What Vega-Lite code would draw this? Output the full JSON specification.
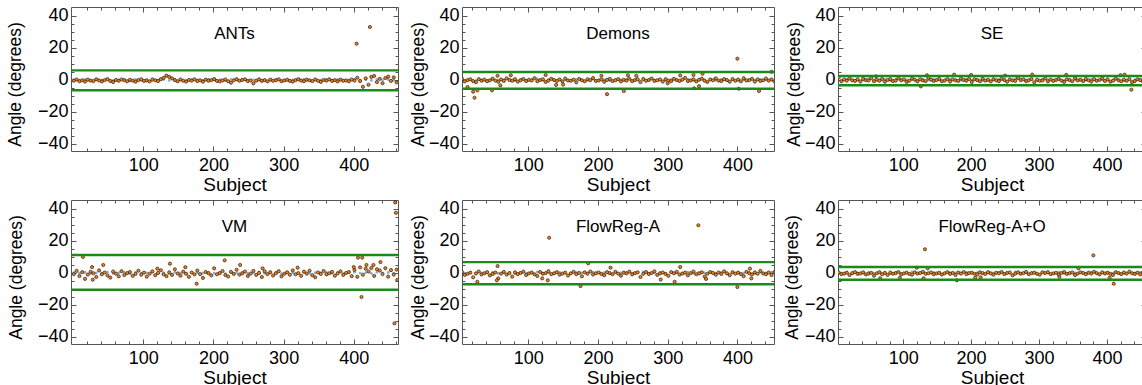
{
"$schema":"https://vega.github.io/schema/vega-lite/v6.json",
"padding":{"left":6,"top":6,"right":0,"bottom":0},
"config":{"view":{"stroke":null},
"axis":{"domainColor":"#555","tickColor":"#555","domainWidth":1,"tickWidth":1,"grid":false,"labelFont":"Liberation Sans","labelFontSize":18,"labelColor":"#000","titleFont":"Liberation Sans","titleFontSize":19,"titleFontWeight":"normal","titleColor":"#000","labelFlush":false,"labelOverlap":false},
"axisLeft":{"titleFontSize":17.5},
"title":{"font":"Liberation Sans","fontSize":17,"fontWeight":"normal","color":"#000","anchor":"middle","frame":"group","offset":-36.7,"baseline":"alphabetic"}},
"datasets":{
"thr":[{"m":"ANTs","v":5.9},{"m":"ANTs","v":-6.5},{"m":"Demons","v":4.9},{"m":"Demons","v":-5.6},{"m":"SE","v":2.4},{"m":"SE","v":-3.4},{"m":"VM","v":11.1},{"m":"VM","v":-10.6},{"m":"FlowReg-A","v":6.7},{"m":"FlowReg-A","v":-7.2},{"m":"FlowReg-A+O","v":3.6},{"m":"FlowReg-A+O","v":-4.3}],
"d1":[{"s":1,"a":-0.6,"b":0.1},{"s":5,"a":0.2},{"s":9,"a":-0.9,"b":-0.3},{"s":13,"a":-0.3},{"s":17,"a":-1.1,"b":0.2},{"s":21,"a":0.1},{"s":25,"a":-0.5,"b":-0.5},{"s":29,"a":-0.8},{"s":33,"a":0.3,"b":0.0},{"s":37,"a":-0.4},
{"s":41,"a":-1.0,"b":-0.2},{"s":45,"a":-0.2},{"s":49,"a":0.4,"b":0.4},{"s":53,"a":-0.7},{"s":57,"a":-1.4,"b":-0.4},{"s":61,"a":-0.1},{"s":65,"a":-0.6,"b":-0.1},{"s":69,"a":0.2},{"s":73,"a":-0.3,"b":0.3},{"s":77,"a":-0.9},
{"s":81,"a":0.0,"b":-0.6},{"s":85,"a":-0.5},{"s":89,"a":-1.2,"b":0.2},{"s":93,"a":-0.2},{"s":97,"a":0.3,"b":-0.2},{"s":101,"a":-0.7},{"s":105,"a":-0.4,"b":0.0},{"s":109,"a":-1.0},{"s":113,"a":0.1,"b":0.5},{"s":117,"a":-0.3},
{"s":121,"a":-0.8,"b":-0.3},{"s":125,"a":0.4},{"s":129,"a":1.2,"b":0.1},{"s":133,"a":2.6},{"s":137,"a":1.8,"b":-0.4},{"s":141,"a":0.9},{"s":145,"a":-0.2,"b":0.3},{"s":149,"a":-0.9},{"s":153,"a":0.2,"b":-0.1},{"s":157,"a":-0.6},
{"s":161,"a":-1.1,"b":-0.5},{"s":165,"a":-0.1},{"s":169,"a":-0.5,"b":0.2},{"s":173,"a":0.3},{"s":177,"a":-0.8,"b":0.0},{"s":181,"a":-0.3},{"s":185,"a":-1.2,"b":-0.3},{"s":189,"a":0.1},{"s":193,"a":-0.6,"b":0.4},{"s":197,"a":-0.2},
{"s":201,"a":0.5,"b":-0.2},{"s":205,"a":-0.7},{"s":209,"a":-1.0,"b":0.1},{"s":213,"a":-0.4},{"s":217,"a":0.2,"b":-0.6},{"s":221,"a":-0.9},{"s":225,"a":-1.8,"b":0.3},{"s":229,"a":-0.3},{"s":233,"a":0.4,"b":-0.1},{"s":237,"a":-0.6},
{"s":241,"a":-0.1,"b":0.2},{"s":245,"a":0.3},{"s":249,"a":-0.8,"b":-0.4},{"s":253,"a":-0.4},{"s":257,"a":-2.2,"b":0.0},{"s":261,"a":-0.5},{"s":265,"a":0.2,"b":0.5},{"s":269,"a":-0.7},{"s":273,"a":-0.2,"b":-0.3},{"s":277,"a":-1.0},
{"s":281,"a":0.1,"b":-0.1},{"s":285,"a":-0.6},{"s":289,"a":-0.3,"b":0.2},{"s":293,"a":0.3},{"s":297,"a":-0.9,"b":-0.5},{"s":301,"a":-0.4},{"s":305,"a":0.0,"b":0.3},{"s":309,"a":-0.7},{"s":313,"a":-1.1,"b":0.0},{"s":317,"a":-0.2},
{"s":321,"a":0.4,"b":-0.2},{"s":325,"a":-0.5},{"s":329,"a":-0.9,"b":0.4},{"s":333,"a":0.1},{"s":337,"a":-0.3,"b":-0.4},{"s":341,"a":-0.8},{"s":345,"a":0.2,"b":0.1},{"s":349,"a":-0.6},{"s":353,"a":-1.3,"b":-0.1},{"s":357,"a":-0.1},
{"s":361,"a":-0.5,"b":0.3},{"s":365,"a":0.3},{"s":369,"a":-0.7,"b":-0.3},{"s":373,"a":-0.2},{"s":377,"a":-1.0,"b":0.2},{"s":381,"a":0.1},{"s":385,"a":-0.6,"b":-0.6},{"s":389,"a":-0.4},{"s":393,"a":-0.9,"b":0.0},{"s":397,"a":0.2},
{"s":401,"a":-0.5,"b":0.4},{"s":405,"a":1.3},{"s":409,"a":-0.8,"b":-0.2},{"s":413,"a":-4.4},{"s":417,"a":0.9,"b":0.1},{"s":421,"a":-3.1},{"s":425,"a":1.8,"b":-0.4},{"s":429,"a":2.4},{"s":433,"a":-1.4,"b":0.3},{"s":437,"a":0.6},
{"s":441,"a":-2.1,"b":-0.1},{"s":445,"a":1.1},{"s":449,"a":2.0,"b":0.2},{"s":453,"a":-0.7},{"s":457,"a":1.5,"b":-0.3},{"s":461,"a":-1.6},
{"s":404,"a":22.6},{"s":423,"a":33.0}],
"d2":[{"s":1,"a":-0.4,"b":0.1},{"s":5,"a":0.6},{"s":9,"a":-1.0,"b":-0.3},{"s":13,"a":-0.2},{"s":17,"a":0.3,"b":0.2},{"s":21,"a":-0.8},{"s":25,"a":-1.5,"b":-0.5},{"s":29,"a":0.4},{"s":33,"a":-0.6,"b":0.0},{"s":37,"a":0.1},
{"s":41,"a":-0.9,"b":-0.2},{"s":45,"a":-0.3},{"s":49,"a":0.7,"b":0.4},{"s":53,"a":-0.5},{"s":57,"a":-1.2,"b":-0.4},{"s":61,"a":0.2},{"s":65,"a":-0.7,"b":-0.1},{"s":69,"a":0.9},{"s":73,"a":-0.1,"b":0.3},{"s":77,"a":-0.6},
{"s":81,"a":0.4,"b":-0.6},{"s":85,"a":-1.1},{"s":89,"a":-0.3,"b":0.2},{"s":93,"a":0.5},{"s":97,"a":-0.8,"b":-0.2},{"s":101,"a":0.0},{"s":105,"a":-0.4,"b":0.0},{"s":109,"a":1.0},{"s":113,"a":-0.9,"b":0.5},{"s":117,"a":-0.2},
{"s":121,"a":0.3,"b":-0.3},{"s":125,"a":-1.3},{"s":129,"a":-0.5,"b":0.1},{"s":133,"a":0.6},{"s":137,"a":-0.1,"b":-0.4},{"s":141,"a":-0.7},{"s":145,"a":0.2,"b":0.3},{"s":149,"a":-1.0},{"s":153,"a":0.8,"b":-0.1},{"s":157,"a":-0.4},
{"s":161,"a":-0.6,"b":-0.5},{"s":165,"a":0.1},{"s":169,"a":-1.6,"b":0.2},{"s":173,"a":0.5},{"s":177,"a":-0.3,"b":0.0},{"s":181,"a":-0.9},{"s":185,"a":0.3,"b":-0.3},{"s":189,"a":-0.2},{"s":193,"a":1.1,"b":0.4},{"s":197,"a":-0.7},
{"s":201,"a":-0.4,"b":-0.2},{"s":205,"a":0.2},{"s":209,"a":-1.2,"b":0.1},{"s":213,"a":-0.1},{"s":217,"a":0.6,"b":-0.6},{"s":221,"a":-0.8},{"s":225,"a":-0.3,"b":0.3},{"s":229,"a":0.4},{"s":233,"a":-1.0,"b":-0.1},{"s":237,"a":0.0},
{"s":241,"a":-0.5,"b":0.2},{"s":245,"a":0.7},{"s":249,"a":-0.9,"b":-0.4},{"s":253,"a":-0.2},{"s":257,"a":0.3,"b":0.0},{"s":261,"a":-1.4},{"s":265,"a":0.5,"b":0.5},{"s":269,"a":-0.6},{"s":273,"a":-0.1,"b":-0.3},{"s":277,"a":0.8},
{"s":281,"a":-0.7,"b":-0.1},{"s":285,"a":-0.3},{"s":289,"a":0.2,"b":0.2},{"s":293,"a":-1.1},{"s":297,"a":0.4,"b":-0.5},{"s":301,"a":-0.5},{"s":305,"a":-0.9,"b":0.3},{"s":309,"a":0.6},{"s":313,"a":-0.2,"b":0.0},{"s":317,"a":-0.7},
{"s":321,"a":0.1,"b":-0.2},{"s":325,"a":1.2},{"s":329,"a":-0.8,"b":0.4},{"s":333,"a":-0.4},{"s":337,"a":0.3,"b":-0.4},{"s":341,"a":-1.0},{"s":345,"a":0.0,"b":0.1},{"s":349,"a":0.7},{"s":353,"a":-0.6,"b":-0.1},{"s":357,"a":-1.3},
{"s":361,"a":0.2,"b":0.3},{"s":365,"a":-0.3},{"s":369,"a":0.9,"b":-0.3},{"s":373,"a":-0.5},{"s":377,"a":-0.8,"b":0.2},{"s":381,"a":0.4},{"s":385,"a":-0.1,"b":-0.6},{"s":389,"a":-1.2},{"s":393,"a":0.5,"b":0.0},{"s":397,"a":-0.6},
{"s":401,"a":0.1,"b":0.4},{"s":405,"a":-0.9},{"s":409,"a":1.0,"b":-0.2},{"s":413,"a":-0.4},{"s":417,"a":-0.2,"b":0.1},{"s":421,"a":0.6},{"s":425,"a":-1.1,"b":-0.4},{"s":429,"a":0.3},{"s":433,"a":-0.7,"b":0.3},{"s":437,"a":-0.3},
{"s":441,"a":0.8,"b":-0.1},{"s":445,"a":-0.5},{"s":449,"a":0.2,"b":0.2},{"s":453,"a":-1.0},{"s":457,"a":1.4,"b":-0.3},{"s":461,"a":-0.6},
{"s":13,"a":-4.5},{"s":21,"a":-7.4},{"s":23,"a":-11.2},{"s":27,"a":-6.6},{"s":48,"a":-6.6},{"s":56,"a":2.5},{"s":60,"a":-3.5},{"s":75,"a":2.8},{"s":125,"a":3.0},{"s":140,"a":-3.2},{"s":150,"a":-3.0},{"s":205,"a":2.5},{"s":213,"a":-9.0},{"s":237,"a":-7.0},{"s":243,"a":2.8},{"s":255,"a":2.5},{"s":300,"a":-2.2},{"s":318,"a":2.7},{"s":337,"a":3.0},{"s":338,"a":-5.3},{"s":345,"a":-4.0},{"s":350,"a":3.8},{"s":400,"a":13.2},{"s":402,"a":-5.6},{"s":431,"a":-7.0},{"s":449,"a":5.0}],
"d3":[{"s":1,"a":-0.6,"b":0.1},{"s":5,"a":1.4},{"s":9,"a":-1.0,"b":-0.3},{"s":13,"a":0.2},{"s":17,"a":-0.5,"b":0.2},{"s":21,"a":0.8},{"s":25,"a":-0.3,"b":-0.5},{"s":29,"a":-0.7},{"s":33,"a":0.3,"b":0.0},{"s":37,"a":-1.1},
{"s":41,"a":0.6,"b":-0.2},{"s":45,"a":-0.2},{"s":49,"a":-0.4,"b":0.4},{"s":53,"a":1.0},{"s":57,"a":-0.9,"b":-0.4},{"s":61,"a":0.1},{"s":65,"a":-0.6,"b":-0.1},{"s":69,"a":0.5},{"s":73,"a":-1.2,"b":0.3},{"s":77,"a":-0.1},
{"s":81,"a":0.4,"b":-0.6},{"s":85,"a":-0.8},{"s":89,"a":-0.5,"b":0.2},{"s":93,"a":0.9},{"s":97,"a":-0.3,"b":-0.2},{"s":101,"a":0.2},{"s":105,"a":-1.3,"b":0.0},{"s":109,"a":-0.6},{"s":113,"a":0.7,"b":0.5},{"s":117,"a":0.0},
{"s":121,"a":-1.0,"b":-0.3},{"s":125,"a":0.3},{"s":129,"a":-0.4,"b":0.1},{"s":133,"a":-0.8},{"s":137,"a":1.2,"b":-0.4},{"s":141,"a":0.1},{"s":145,"a":-0.7,"b":0.3},{"s":149,"a":-0.2},{"s":153,"a":0.6,"b":-0.1},{"s":157,"a":-0.9},
{"s":161,"a":-0.5,"b":-0.5},{"s":165,"a":0.4},{"s":169,"a":-1.1,"b":0.2},{"s":173,"a":0.2},{"s":177,"a":-0.3,"b":0.0},{"s":181,"a":-0.7},{"s":185,"a":0.8,"b":-0.3},{"s":189,"a":-0.1},{"s":193,"a":-0.6,"b":0.4},{"s":197,"a":0.5},
{"s":201,"a":-1.4,"b":-0.2},{"s":205,"a":0.3},{"s":209,"a":-0.2,"b":0.1},{"s":213,"a":-0.9},{"s":217,"a":0.7,"b":-0.6},{"s":221,"a":-0.5},{"s":225,"a":0.0,"b":0.3},{"s":229,"a":-1.0},{"s":233,"a":0.4,"b":-0.1},{"s":237,"a":-0.3},
{"s":241,"a":-0.8,"b":0.2},{"s":245,"a":0.6},{"s":249,"a":-0.1,"b":-0.4},{"s":253,"a":-1.2},{"s":257,"a":0.2,"b":0.0},{"s":261,"a":-0.4},{"s":265,"a":-0.7,"b":0.5},{"s":269,"a":1.1},{"s":273,"a":-0.2,"b":-0.3},{"s":277,"a":0.3},
{"s":281,"a":-0.9,"b":-0.1},{"s":285,"a":-0.3},{"s":289,"a":0.5,"b":0.2},{"s":293,"a":-1.6},{"s":297,"a":0.1,"b":-0.5},{"s":301,"a":-0.6},{"s":305,"a":-0.4,"b":0.3},{"s":309,"a":0.8},{"s":313,"a":-1.0,"b":0.0},{"s":317,"a":0.2},
{"s":321,"a":-0.7,"b":-0.2},{"s":325,"a":-0.1},{"s":329,"a":0.6,"b":0.4},{"s":333,"a":-0.5},{"s":337,"a":-1.3,"b":-0.4},{"s":341,"a":0.3},{"s":345,"a":-0.2,"b":0.1},{"s":349,"a":-0.9},{"s":353,"a":1.0,"b":-0.1},{"s":357,"a":-0.4},
{"s":361,"a":0.0,"b":0.3},{"s":365,"a":-0.8},{"s":369,"a":0.5,"b":-0.3},{"s":373,"a":-0.3},{"s":377,"a":-1.1,"b":0.2},{"s":381,"a":0.4},{"s":385,"a":-0.6,"b":-0.6},{"s":389,"a":-0.1},{"s":393,"a":0.9,"b":0.0},{"s":397,"a":-0.7},
{"s":401,"a":0.2,"b":0.4},{"s":405,"a":-1.2},{"s":409,"a":-0.5,"b":-0.2},{"s":413,"a":0.7},{"s":417,"a":-0.3,"b":0.1},{"s":421,"a":-0.9},{"s":425,"a":0.1,"b":-0.4},{"s":429,"a":-0.6},{"s":433,"a":0.4,"b":0.3},{"s":437,"a":-1.5},
{"s":441,"a":-0.8,"b":-0.1},{"s":445,"a":0.3},{"s":449,"a":-0.2,"b":0.2},{"s":453,"a":-1.0},{"s":457,"a":0.6,"b":-0.3},{"s":461,"a":-0.4},
{"s":60,"a":2.2},{"s":126,"a":-4.1},{"s":135,"a":2.8},{"s":175,"a":3.2},{"s":200,"a":3.0},{"s":250,"a":2.6},{"s":290,"a":3.3},{"s":340,"a":3.1},{"s":420,"a":2.9},{"s":426,"a":3.2},{"s":436,"a":-6.2}],
"d4":[{"s":1,"a":-0.8,"b":0.1},{"s":5,"a":1.2},{"s":9,"a":-2.0,"b":-0.3},{"s":13,"a":0.4},{"s":17,"a":-3.8,"b":0.2},{"s":21,"a":-1.1},{"s":25,"a":0.6,"b":-0.5},{"s":29,"a":-0.3},{"s":33,"a":-2.6,"b":0.0},{"s":37,"a":1.5},
{"s":41,"a":-0.9,"b":-0.2},{"s":45,"a":0.2},{"s":49,"a":-1.7,"b":0.4},{"s":53,"a":-3.0},{"s":57,"a":0.8,"b":-0.4},{"s":61,"a":-0.5},{"s":65,"a":-2.2,"b":-0.1},{"s":69,"a":1.0},{"s":73,"a":-1.4,"b":0.3},{"s":77,"a":-0.2},
{"s":81,"a":0.5,"b":-0.6},{"s":85,"a":-1.9},{"s":89,"a":-0.7,"b":0.2},{"s":93,"a":1.3},{"s":97,"a":-1.2,"b":-0.2},{"s":101,"a":0.1},{"s":105,"a":-2.4,"b":0.0},{"s":109,"a":-0.6},{"s":113,"a":0.9,"b":0.5},{"s":117,"a":-1.5},
{"s":121,"a":-0.1,"b":-0.3},{"s":125,"a":1.6},{"s":129,"a":-0.9,"b":0.1},{"s":133,"a":-2.1},{"s":137,"a":0.3,"b":-0.4},{"s":141,"a":-1.3},{"s":145,"a":2.2,"b":0.3},{"s":149,"a":-0.4},{"s":153,"a":-1.8,"b":-0.1},{"s":157,"a":0.7},
{"s":161,"a":-0.6,"b":-0.5},{"s":165,"a":-2.5},{"s":169,"a":0.2,"b":0.2},{"s":173,"a":-1.0},{"s":177,"a":1.4,"b":0.0},{"s":181,"a":-0.8},{"s":185,"a":-3.2,"b":-0.3},{"s":189,"a":0.5},{"s":193,"a":-0.3,"b":0.4},{"s":197,"a":-1.6},
{"s":201,"a":2.8,"b":-0.2},{"s":205,"a":-0.9},{"s":209,"a":-0.2,"b":0.1},{"s":213,"a":1.1},{"s":217,"a":-1.4,"b":-0.6},{"s":221,"a":-2.3},{"s":225,"a":0.6,"b":0.3},{"s":229,"a":-0.7},{"s":233,"a":1.9,"b":-0.1},{"s":237,"a":-1.1},
{"s":241,"a":-0.4,"b":0.2},{"s":245,"a":0.8},{"s":249,"a":-2.0,"b":-0.4},{"s":253,"a":-0.5},{"s":257,"a":1.2,"b":0.0},{"s":261,"a":-1.3},{"s":265,"a":-0.1,"b":0.5},{"s":269,"a":-2.6},{"s":273,"a":0.9,"b":-0.3},{"s":277,"a":-0.8},
{"s":281,"a":0.4,"b":-0.1},{"s":285,"a":-1.7},{"s":289,"a":-0.3,"b":0.2},{"s":293,"a":1.0},{"s":297,"a":-2.2,"b":-0.5},{"s":301,"a":-0.6},{"s":305,"a":0.3,"b":0.3},{"s":309,"a":-1.2},{"s":313,"a":1.5,"b":0.0},{"s":317,"a":-0.9},
{"s":321,"a":-0.2,"b":-0.2},{"s":325,"a":-1.9},{"s":329,"a":0.7,"b":0.4},{"s":333,"a":-0.5},{"s":337,"a":1.3,"b":-0.4},{"s":341,"a":-1.5},{"s":345,"a":-2.8,"b":0.1},{"s":349,"a":0.2},{"s":353,"a":-0.7,"b":-0.1},{"s":357,"a":1.1},
{"s":361,"a":-1.0,"b":0.3},{"s":365,"a":-0.3},{"s":369,"a":0.6,"b":-0.3},{"s":373,"a":-1.8},{"s":377,"a":-0.4,"b":0.2},{"s":381,"a":0.9},{"s":385,"a":-1.3,"b":-0.6},{"s":389,"a":-0.1},{"s":393,"a":0.5,"b":0.0},{"s":397,"a":-2.1},
{"s":401,"a":1.8,"b":0.4},{"s":405,"a":-2.5},{"s":409,"a":3.4,"b":-0.2},{"s":413,"a":-1.2},{"s":417,"a":2.6,"b":0.1},{"s":421,"a":0.8},{"s":425,"a":3.0,"b":-0.4},{"s":429,"a":-1.9},{"s":433,"a":2.2,"b":0.3},{"s":437,"a":1.4},
{"s":441,"a":-0.8,"b":-0.1},{"s":445,"a":2.9},{"s":449,"a":-2.4,"b":0.2},{"s":453,"a":1.7},{"s":457,"a":-1.1,"b":-0.3},{"s":461,"a":2.0},
{"s":14,"a":9.9},{"s":27,"a":3.6},{"s":28,"a":-4.3},{"s":43,"a":4.9},{"s":120,"a":2.6},{"s":138,"a":5.7},{"s":160,"a":3.5},{"s":176,"a":-6.8},{"s":216,"a":7.8},{"s":238,"a":4.9},{"s":270,"a":2.8},{"s":320,"a":3.2},{"s":400,"a":3.6},{"s":406,"a":9.5},{"s":411,"a":-15.1},{"s":412,"a":9.5},{"s":418,"a":4.9},{"s":428,"a":4.9},{"s":438,"a":6.7},{"s":459,"a":44.0},{"s":460,"a":37.5},{"s":458,"a":-31.6},{"s":462,"a":-4.5}],
"d5":[{"s":1,"a":-0.2,"b":0.1},{"s":5,"a":0.5},{"s":9,"a":-1.3,"b":-0.3},{"s":13,"a":-0.6},{"s":17,"a":0.1,"b":0.2},{"s":21,"a":-2.8},{"s":25,"a":-0.4,"b":-0.5},{"s":29,"a":0.8},{"s":33,"a":-1.0,"b":0.0},{"s":37,"a":-0.3},
{"s":41,"a":0.4,"b":-0.2},{"s":45,"a":-1.6},{"s":49,"a":-0.7,"b":0.4},{"s":53,"a":0.2},{"s":57,"a":-3.5,"b":-0.4},{"s":61,"a":-0.5},{"s":65,"a":0.6,"b":-0.1},{"s":69,"a":-1.1},{"s":73,"a":-0.2,"b":0.3},{"s":77,"a":-2.4},
{"s":81,"a":0.3,"b":-0.6},{"s":85,"a":-0.8},{"s":89,"a":-0.1,"b":0.2},{"s":93,"a":0.7},{"s":97,"a":-1.4,"b":-0.2},{"s":101,"a":-0.4},{"s":105,"a":0.2,"b":0.0},{"s":109,"a":-0.9},{"s":113,"a":-2.0,"b":0.5},{"s":117,"a":0.5},
{"s":121,"a":-0.6,"b":-0.3},{"s":125,"a":-0.2},{"s":129,"a":1.0,"b":0.1},{"s":133,"a":-0.8},{"s":137,"a":-0.3,"b":-0.4},{"s":141,"a":0.4},{"s":145,"a":-1.2,"b":0.3},{"s":149,"a":-0.5},{"s":153,"a":0.1,"b":-0.1},{"s":157,"a":-1.7},
{"s":161,"a":-0.4,"b":-0.5},{"s":165,"a":0.6},{"s":169,"a":-0.9,"b":0.2},{"s":173,"a":-0.1},{"s":177,"a":-2.2,"b":0.0},{"s":181,"a":0.3},{"s":185,"a":-0.6,"b":-0.3},{"s":189,"a":0.8},{"s":193,"a":-1.1,"b":0.4},{"s":197,"a":-0.3},
{"s":201,"a":0.2,"b":-0.2},{"s":205,"a":-0.7},{"s":209,"a":-1.5,"b":0.1},{"s":213,"a":0.4},{"s":217,"a":-0.2,"b":-0.6},{"s":221,"a":-0.9},{"s":225,"a":0.6,"b":0.3},{"s":229,"a":-0.5},{"s":233,"a":-1.8,"b":-0.1},{"s":237,"a":0.1},
{"s":241,"a":-0.4,"b":0.2},{"s":245,"a":0.7},{"s":249,"a":-1.0,"b":-0.4},{"s":253,"a":-0.2},{"s":257,"a":0.3,"b":0.0},{"s":261,"a":-2.6},{"s":265,"a":-0.6,"b":0.5},{"s":269,"a":0.5},{"s":273,"a":-0.8,"b":-0.3},{"s":277,"a":-0.1},
{"s":281,"a":0.9,"b":-0.1},{"s":285,"a":-1.3},{"s":289,"a":-0.4,"b":0.2},{"s":293,"a":0.2},{"s":297,"a":-0.7,"b":-0.5},{"s":301,"a":-1.9},{"s":305,"a":0.4,"b":0.3},{"s":309,"a":-0.3},{"s":313,"a":0.6,"b":0.0},{"s":317,"a":-1.1},
{"s":321,"a":-0.5,"b":-0.2},{"s":325,"a":0.1},{"s":329,"a":-1.6,"b":0.4},{"s":333,"a":-0.2},{"s":337,"a":0.8,"b":-0.4},{"s":341,"a":-0.9},{"s":345,"a":-0.4,"b":0.1},{"s":349,"a":0.3},{"s":353,"a":-2.3,"b":-0.1},{"s":357,"a":-0.6},
{"s":361,"a":0.5,"b":0.3},{"s":365,"a":-0.1},{"s":369,"a":-1.2,"b":-0.3},{"s":373,"a":0.2},{"s":377,"a":-0.7,"b":0.2},{"s":381,"a":0.9},{"s":385,"a":-0.3,"b":-0.6},{"s":389,"a":-1.5},{"s":393,"a":0.4,"b":0.0},{"s":397,"a":-0.5},
{"s":401,"a":0.1,"b":0.4},{"s":405,"a":-0.8},{"s":409,"a":-2.1,"b":-0.2},{"s":413,"a":0.6},{"s":417,"a":-0.3,"b":0.1},{"s":421,"a":-1.0},{"s":425,"a":0.3,"b":-0.4},{"s":429,"a":-0.6},{"s":433,"a":1.2,"b":0.3},{"s":437,"a":-0.4},
{"s":441,"a":-0.9,"b":-0.1},{"s":445,"a":0.2},{"s":449,"a":-1.4,"b":0.2},{"s":453,"a":0.5},{"s":457,"a":-0.2,"b":-0.3},{"s":461,"a":0.7},
{"s":27,"a":-5.6},{"s":55,"a":-4.7},{"s":56,"a":4.2},{"s":120,"a":-3.5},{"s":128,"a":-4.7},{"s":130,"a":21.9},{"s":175,"a":-8.3},{"s":186,"a":5.9},{"s":218,"a":3.2},{"s":290,"a":-4.2},{"s":310,"a":-5.6},{"s":318,"a":3.6},{"s":344,"a":29.7},{"s":355,"a":-3.8},{"s":400,"a":-8.9},{"s":418,"a":2.6},{"s":420,"a":-3.5}],
"d6":[{"s":1,"a":-0.3,"b":0.1},{"s":5,"a":0.2},{"s":9,"a":-0.8,"b":-0.3},{"s":13,"a":-0.5},{"s":17,"a":0.1,"b":0.2},{"s":21,"a":-1.4},{"s":25,"a":-0.2,"b":-0.5},{"s":29,"a":0.4},{"s":33,"a":-0.7,"b":0.0},{"s":37,"a":-0.4},
{"s":41,"a":0.3,"b":-0.2},{"s":45,"a":-1.0},{"s":49,"a":-0.6,"b":0.4},{"s":53,"a":0.0},{"s":57,"a":-1.8,"b":-0.4},{"s":61,"a":-0.3},{"s":65,"a":0.4,"b":-0.1},{"s":69,"a":-0.9},{"s":73,"a":-0.1,"b":0.3},{"s":77,"a":-1.3},
{"s":81,"a":0.2,"b":-0.6},{"s":85,"a":-0.6},{"s":89,"a":-0.2,"b":0.2},{"s":93,"a":0.5},{"s":97,"a":-1.0,"b":-0.2},{"s":101,"a":-0.4},{"s":105,"a":0.1,"b":0.0},{"s":109,"a":-0.7},{"s":113,"a":-1.2,"b":0.5},{"s":117,"a":0.3},
{"s":121,"a":-0.5,"b":-0.3},{"s":125,"a":-0.1},{"s":129,"a":0.6,"b":0.1},{"s":133,"a":-0.6},{"s":137,"a":-0.3,"b":-0.4},{"s":141,"a":0.2},{"s":145,"a":-0.9,"b":0.3},{"s":149,"a":-0.4},{"s":153,"a":0.0,"b":-0.1},{"s":157,"a":-1.1},
{"s":161,"a":-0.3,"b":-0.5},{"s":165,"a":0.4},{"s":169,"a":-0.7,"b":0.2},{"s":173,"a":-0.1},{"s":177,"a":-1.4,"b":0.0},{"s":181,"a":0.2},{"s":185,"a":-0.5,"b":-0.3},{"s":189,"a":0.5},{"s":193,"a":-0.8,"b":0.4},{"s":197,"a":-0.2},
{"s":201,"a":0.1,"b":-0.2},{"s":205,"a":-0.6},{"s":209,"a":-1.0,"b":0.1},{"s":213,"a":0.3},{"s":217,"a":-0.2,"b":-0.6},{"s":221,"a":-0.7},{"s":225,"a":0.4,"b":0.3},{"s":229,"a":-0.4},{"s":233,"a":-1.2,"b":-0.1},{"s":237,"a":0.0},
{"s":241,"a":-0.3,"b":0.2},{"s":245,"a":0.5},{"s":249,"a":-0.8,"b":-0.4},{"s":253,"a":-0.1},{"s":257,"a":0.2,"b":0.0},{"s":261,"a":-1.5},{"s":265,"a":-0.5,"b":0.5},{"s":269,"a":0.3},{"s":273,"a":-0.6,"b":-0.3},{"s":277,"a":-0.2},
{"s":281,"a":0.6,"b":-0.1},{"s":285,"a":-0.9},{"s":289,"a":-0.3,"b":0.2},{"s":293,"a":0.1},{"s":297,"a":-0.6,"b":-0.5},{"s":301,"a":-1.2},{"s":305,"a":0.3,"b":0.3},{"s":309,"a":-0.2},{"s":313,"a":0.4,"b":0.0},{"s":317,"a":-0.8},
{"s":321,"a":-0.4,"b":-0.2},{"s":325,"a":0.0},{"s":329,"a":-1.1,"b":0.4},{"s":333,"a":-0.1},{"s":337,"a":0.5,"b":-0.4},{"s":341,"a":-0.7},{"s":345,"a":-0.3,"b":0.1},{"s":349,"a":0.2},{"s":353,"a":-1.4,"b":-0.1},{"s":357,"a":-0.5},
{"s":361,"a":0.3,"b":0.3},{"s":365,"a":-0.1},{"s":369,"a":-0.9,"b":-0.3},{"s":373,"a":0.1},{"s":377,"a":-0.5,"b":0.2},{"s":381,"a":0.6},{"s":385,"a":-0.2,"b":-0.6},{"s":389,"a":-1.0},{"s":393,"a":0.3,"b":0.0},{"s":397,"a":-0.4},
{"s":401,"a":0.0,"b":0.4},{"s":405,"a":-0.6},{"s":409,"a":-1.3,"b":-0.2},{"s":413,"a":0.4},{"s":417,"a":-0.2,"b":0.1},{"s":421,"a":-0.8},{"s":425,"a":0.2,"b":-0.4},{"s":429,"a":-0.5},{"s":433,"a":0.7,"b":0.3},{"s":437,"a":-0.3},
{"s":441,"a":-0.7,"b":-0.1},{"s":445,"a":0.1},{"s":449,"a":-1.0,"b":0.2},{"s":453,"a":0.3},{"s":457,"a":-0.2,"b":-0.3},{"s":461,"a":0.4},
{"s":66,"a":-3.4},{"s":95,"a":-3.2},{"s":120,"a":3.2},{"s":130,"a":-3.4},{"s":132,"a":14.7},{"s":136,"a":2.8},{"s":179,"a":-4.7},{"s":206,"a":-3.1},{"s":214,"a":-2.8},{"s":330,"a":-2.5},{"s":358,"a":2.8},{"s":380,"a":10.9},{"s":404,"a":-3.0},{"s":410,"a":-6.8}]
},
"columns":3,
"spacing":{"row":49,"column":64},
"bounds":"flush",
"align":"each",
"concat":[
{"width":327,"height":144,"title":{"text":"ANTs"},"resolve":{"axis":{"x":"independent","y":"independent"}},"layer":[
{"data":{"name":"d1"},"mark":{"type":"point","shape":"circle","filled":true,"size":8,"color":"#7fb0dc","opacity":1,"clip":true},
"encoding":{"x":{"field":"s","type":"quantitative","scale":{"domain":[-3,463],"nice":false,"zero":false},"axis":{"orient":"bottom","values":[20,40,60,80,100,120,140,160,180,200,220,240,260,280,300,320,340,360,380,400,420,440,460],"labelExpr":"datum.value%100===0?datum.label:''","tickSize":{"condition":{"test":"datum.value%100===0","value":-5},"value":-3},"labelPadding":10,"title":"Subject","titlePadding":-1}},
"y":{"field":"b","type":"quantitative","scale":{"domain":[-44.5,45.5],"nice":false,"zero":false},"axis":{"orient":"left","values":[-40,-35,-30,-25,-20,-15,-10,-5,0,5,10,15,20,25,30,35,40],"labelExpr":"datum.value%20===0?datum.label:''","tickSize":{"condition":{"test":"datum.value%20===0","value":-5},"value":-3},"labelPadding":8,"title":"Angle (degrees)","titleX":-50.8,"titleY":77,"titleBaseline":"alphabetic","titleAngle":270}}}},
{"data":{"name":"d1"},"mark":{"type":"point","shape":"circle","filled":true,"size":10,"fill":"#f08520","stroke":"#2a180a","strokeWidth":0.7,"opacity":1,"clip":true},
"encoding":{"x":{"field":"s","type":"quantitative","scale":{"domain":[-3,463],"nice":false,"zero":false},"axis":{"orient":"top","values":[20,40,60,80,100,120,140,160,180,200,220,240,260,280,300,320,340,360,380,400,420,440,460],"labels":false,"title":null,"tickSize":{"condition":{"test":"datum.value%100===0","value":-5},"value":-3}}},
"y":{"field":"a","type":"quantitative","scale":{"domain":[-44.5,45.5],"nice":false,"zero":false},"axis":{"orient":"right","values":[-40,-35,-30,-25,-20,-15,-10,-5,0,5,10,15,20,25,30,35,40],"labels":false,"title":null,"tickSize":{"condition":{"test":"datum.value%20===0","value":-5},"value":-3}}}}},
{"data":{"name":"thr"},"transform":[{"filter":"datum.m==='ANTs'"}],"mark":{"type":"rule","color":"#1a8a1a","strokeWidth":2.4},"encoding":{"y":{"field":"v","type":"quantitative","scale":{"domain":[-44.5,45.5],"nice":false,"zero":false},"axis":null}}}
]},
{"width":312,"height":144,"title":{"text":"Demons"},"resolve":{"axis":{"x":"independent","y":"independent"}},"layer":[
{"data":{"name":"d2"},"mark":{"type":"point","shape":"circle","filled":true,"size":8,"color":"#7fb0dc","opacity":1,"clip":true},
"encoding":{"x":{"field":"s","type":"quantitative","scale":{"domain":[5,452.5],"nice":false,"zero":false},"axis":{"orient":"bottom","values":[20,40,60,80,100,120,140,160,180,200,220,240,260,280,300,320,340,360,380,400,420,440],"labelExpr":"datum.value%100===0?datum.label:''","tickSize":{"condition":{"test":"datum.value%100===0","value":-5},"value":-3},"labelPadding":10,"title":"Subject","titlePadding":-1}},
"y":{"field":"b","type":"quantitative","scale":{"domain":[-44.5,45.5],"nice":false,"zero":false},"axis":{"orient":"left","values":[-40,-35,-30,-25,-20,-15,-10,-5,0,5,10,15,20,25,30,35,40],"labelExpr":"datum.value%20===0?datum.label:''","tickSize":{"condition":{"test":"datum.value%20===0","value":-5},"value":-3},"labelPadding":8,"title":"Angle (degrees)","titleX":-39,"titleY":77,"titleBaseline":"alphabetic","titleAngle":270}}}},
{"data":{"name":"d2"},"mark":{"type":"point","shape":"circle","filled":true,"size":10,"fill":"#f08520","stroke":"#2a180a","strokeWidth":0.7,"opacity":1,"clip":true},
"encoding":{"x":{"field":"s","type":"quantitative","scale":{"domain":[5,452.5],"nice":false,"zero":false},"axis":{"orient":"top","values":[20,40,60,80,100,120,140,160,180,200,220,240,260,280,300,320,340,360,380,400,420,440],"labels":false,"title":null,"tickSize":{"condition":{"test":"datum.value%100===0","value":-5},"value":-3}}},
"y":{"field":"a","type":"quantitative","scale":{"domain":[-44.5,45.5],"nice":false,"zero":false},"axis":{"orient":"right","values":[-40,-35,-30,-25,-20,-15,-10,-5,0,5,10,15,20,25,30,35,40],"labels":false,"title":null,"tickSize":{"condition":{"test":"datum.value%20===0","value":-5},"value":-3}}}}},
{"data":{"name":"thr"},"transform":[{"filter":"datum.m==='Demons'"}],"mark":{"type":"rule","color":"#1a8a1a","strokeWidth":2.4},"encoding":{"y":{"field":"v","type":"quantitative","scale":{"domain":[-44.5,45.5],"nice":false,"zero":false},"axis":null}}}
]},
{"width":308,"height":144,"title":{"text":"SE"},"resolve":{"axis":{"x":"independent","y":"independent"}},"layer":[
{"data":{"name":"d3"},"mark":{"type":"point","shape":"circle","filled":true,"size":8,"color":"#7fb0dc","opacity":1,"clip":true},
"encoding":{"x":{"field":"s","type":"quantitative","scale":{"domain":[4,457.5],"nice":false,"zero":false},"axis":{"orient":"bottom","values":[20,40,60,80,100,120,140,160,180,200,220,240,260,280,300,320,340,360,380,400,420,440],"labelExpr":"datum.value%100===0?datum.label:''","tickSize":{"condition":{"test":"datum.value%100===0","value":-5},"value":-3},"labelPadding":10,"title":"Subject","titlePadding":-1}},
"y":{"field":"b","type":"quantitative","scale":{"domain":[-44.5,45.5],"nice":false,"zero":false},"axis":{"orient":"left","values":[-40,-35,-30,-25,-20,-15,-10,-5,0,5,10,15,20,25,30,35,40],"labelExpr":"datum.value%20===0?datum.label:''","tickSize":{"condition":{"test":"datum.value%20===0","value":-5},"value":-3},"labelPadding":8,"title":"Angle (degrees)","titleX":-39,"titleY":77,"titleBaseline":"alphabetic","titleAngle":270}}}},
{"data":{"name":"d3"},"mark":{"type":"point","shape":"circle","filled":true,"size":10,"fill":"#f08520","stroke":"#2a180a","strokeWidth":0.7,"opacity":1,"clip":true},
"encoding":{"x":{"field":"s","type":"quantitative","scale":{"domain":[4,457.5],"nice":false,"zero":false},"axis":{"orient":"top","values":[20,40,60,80,100,120,140,160,180,200,220,240,260,280,300,320,340,360,380,400,420,440],"labels":false,"title":null,"tickSize":{"condition":{"test":"datum.value%100===0","value":-5},"value":-3}}},
"y":{"field":"a","type":"quantitative","scale":{"domain":[-44.5,45.5],"nice":false,"zero":false},"axis":{"orient":"right","values":[-40,-35,-30,-25,-20,-15,-10,-5,0,5,10,15,20,25,30,35,40],"labels":false,"title":null,"tickSize":{"condition":{"test":"datum.value%20===0","value":-5},"value":-3}}}}},
{"data":{"name":"thr"},"transform":[{"filter":"datum.m==='SE'"}],"mark":{"type":"rule","color":"#1a8a1a","strokeWidth":2.4},"encoding":{"y":{"field":"v","type":"quantitative","scale":{"domain":[-44.5,45.5],"nice":false,"zero":false},"axis":null}}}
]},
{"width":327,"height":144,"title":{"text":"VM"},"resolve":{"axis":{"x":"independent","y":"independent"}},"layer":[
{"data":{"name":"d4"},"mark":{"type":"point","shape":"circle","filled":true,"size":8,"color":"#7fb0dc","opacity":1,"clip":true},
"encoding":{"x":{"field":"s","type":"quantitative","scale":{"domain":[-3,463],"nice":false,"zero":false},"axis":{"orient":"bottom","values":[20,40,60,80,100,120,140,160,180,200,220,240,260,280,300,320,340,360,380,400,420,440,460],"labelExpr":"datum.value%100===0?datum.label:''","tickSize":{"condition":{"test":"datum.value%100===0","value":-5},"value":-3},"labelPadding":10,"title":"Subject","titlePadding":-1}},
"y":{"field":"b","type":"quantitative","scale":{"domain":[-44.5,45.5],"nice":false,"zero":false},"axis":{"orient":"left","values":[-40,-35,-30,-25,-20,-15,-10,-5,0,5,10,15,20,25,30,35,40],"labelExpr":"datum.value%20===0?datum.label:''","tickSize":{"condition":{"test":"datum.value%20===0","value":-5},"value":-3},"labelPadding":8,"title":"Angle (degrees)","titleX":-49.8,"titleY":77,"titleBaseline":"alphabetic","titleAngle":270}}}},
{"data":{"name":"d4"},"mark":{"type":"point","shape":"circle","filled":true,"size":10,"fill":"#f08520","stroke":"#2a180a","strokeWidth":0.7,"opacity":1,"clip":true},
"encoding":{"x":{"field":"s","type":"quantitative","scale":{"domain":[-3,463],"nice":false,"zero":false},"axis":{"orient":"top","values":[20,40,60,80,100,120,140,160,180,200,220,240,260,280,300,320,340,360,380,400,420,440,460],"labels":false,"title":null,"tickSize":{"condition":{"test":"datum.value%100===0","value":-5},"value":-3}}},
"y":{"field":"a","type":"quantitative","scale":{"domain":[-44.5,45.5],"nice":false,"zero":false},"axis":{"orient":"right","values":[-40,-35,-30,-25,-20,-15,-10,-5,0,5,10,15,20,25,30,35,40],"labels":false,"title":null,"tickSize":{"condition":{"test":"datum.value%20===0","value":-5},"value":-3}}}}},
{"data":{"name":"thr"},"transform":[{"filter":"datum.m==='VM'"}],"mark":{"type":"rule","color":"#1a8a1a","strokeWidth":2.4},"encoding":{"y":{"field":"v","type":"quantitative","scale":{"domain":[-44.5,45.5],"nice":false,"zero":false},"axis":null}}}
]},
{"width":312,"height":144,"title":{"text":"FlowReg-A"},"resolve":{"axis":{"x":"independent","y":"independent"}},"layer":[
{"data":{"name":"d5"},"mark":{"type":"point","shape":"circle","filled":true,"size":8,"color":"#7fb0dc","opacity":1,"clip":true},
"encoding":{"x":{"field":"s","type":"quantitative","scale":{"domain":[5,452.5],"nice":false,"zero":false},"axis":{"orient":"bottom","values":[20,40,60,80,100,120,140,160,180,200,220,240,260,280,300,320,340,360,380,400,420,440],"labelExpr":"datum.value%100===0?datum.label:''","tickSize":{"condition":{"test":"datum.value%100===0","value":-5},"value":-3},"labelPadding":10,"title":"Subject","titlePadding":-1}},
"y":{"field":"b","type":"quantitative","scale":{"domain":[-44.5,45.5],"nice":false,"zero":false},"axis":{"orient":"left","values":[-40,-35,-30,-25,-20,-15,-10,-5,0,5,10,15,20,25,30,35,40],"labelExpr":"datum.value%20===0?datum.label:''","tickSize":{"condition":{"test":"datum.value%20===0","value":-5},"value":-3},"labelPadding":8,"title":"Angle (degrees)","titleX":-39,"titleY":77,"titleBaseline":"alphabetic","titleAngle":270}}}},
{"data":{"name":"d5"},"mark":{"type":"point","shape":"circle","filled":true,"size":10,"fill":"#f08520","stroke":"#2a180a","strokeWidth":0.7,"opacity":1,"clip":true},
"encoding":{"x":{"field":"s","type":"quantitative","scale":{"domain":[5,452.5],"nice":false,"zero":false},"axis":{"orient":"top","values":[20,40,60,80,100,120,140,160,180,200,220,240,260,280,300,320,340,360,380,400,420,440],"labels":false,"title":null,"tickSize":{"condition":{"test":"datum.value%100===0","value":-5},"value":-3}}},
"y":{"field":"a","type":"quantitative","scale":{"domain":[-44.5,45.5],"nice":false,"zero":false},"axis":{"orient":"right","values":[-40,-35,-30,-25,-20,-15,-10,-5,0,5,10,15,20,25,30,35,40],"labels":false,"title":null,"tickSize":{"condition":{"test":"datum.value%20===0","value":-5},"value":-3}}}}},
{"data":{"name":"thr"},"transform":[{"filter":"datum.m==='FlowReg-A'"}],"mark":{"type":"rule","color":"#1a8a1a","strokeWidth":2.4},"encoding":{"y":{"field":"v","type":"quantitative","scale":{"domain":[-44.5,45.5],"nice":false,"zero":false},"axis":null}}}
]},
{"width":308,"height":144,"title":{"text":"FlowReg-A+O"},"resolve":{"axis":{"x":"independent","y":"independent"}},"layer":[
{"data":{"name":"d6"},"mark":{"type":"point","shape":"circle","filled":true,"size":8,"color":"#7fb0dc","opacity":1,"clip":true},
"encoding":{"x":{"field":"s","type":"quantitative","scale":{"domain":[4,457.5],"nice":false,"zero":false},"axis":{"orient":"bottom","values":[20,40,60,80,100,120,140,160,180,200,220,240,260,280,300,320,340,360,380,400,420,440],"labelExpr":"datum.value%100===0?datum.label:''","tickSize":{"condition":{"test":"datum.value%100===0","value":-5},"value":-3},"labelPadding":10,"title":"Subject","titlePadding":-1}},
"y":{"field":"b","type":"quantitative","scale":{"domain":[-44.5,45.5],"nice":false,"zero":false},"axis":{"orient":"left","values":[-40,-35,-30,-25,-20,-15,-10,-5,0,5,10,15,20,25,30,35,40],"labelExpr":"datum.value%20===0?datum.label:''","tickSize":{"condition":{"test":"datum.value%20===0","value":-5},"value":-3},"labelPadding":8,"title":"Angle (degrees)","titleX":-40.8,"titleY":77,"titleBaseline":"alphabetic","titleAngle":270}}}},
{"data":{"name":"d6"},"mark":{"type":"point","shape":"circle","filled":true,"size":10,"fill":"#f08520","stroke":"#2a180a","strokeWidth":0.7,"opacity":1,"clip":true},
"encoding":{"x":{"field":"s","type":"quantitative","scale":{"domain":[4,457.5],"nice":false,"zero":false},"axis":{"orient":"top","values":[20,40,60,80,100,120,140,160,180,200,220,240,260,280,300,320,340,360,380,400,420,440],"labels":false,"title":null,"tickSize":{"condition":{"test":"datum.value%100===0","value":-5},"value":-3}}},
"y":{"field":"a","type":"quantitative","scale":{"domain":[-44.5,45.5],"nice":false,"zero":false},"axis":{"orient":"right","values":[-40,-35,-30,-25,-20,-15,-10,-5,0,5,10,15,20,25,30,35,40],"labels":false,"title":null,"tickSize":{"condition":{"test":"datum.value%20===0","value":-5},"value":-3}}}}},
{"data":{"name":"thr"},"transform":[{"filter":"datum.m==='FlowReg-A+O'"}],"mark":{"type":"rule","color":"#1a8a1a","strokeWidth":2.4},"encoding":{"y":{"field":"v","type":"quantitative","scale":{"domain":[-44.5,45.5],"nice":false,"zero":false},"axis":null}}}
]}
]
}
